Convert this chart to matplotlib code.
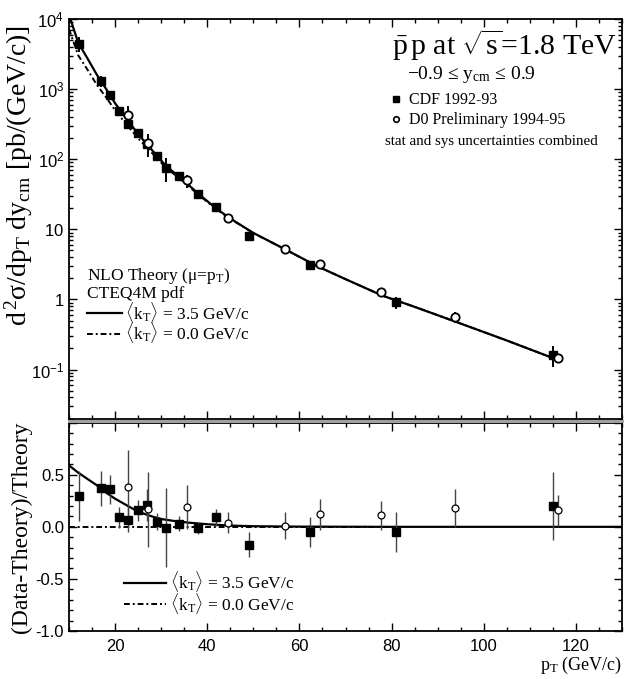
import numpy as np
import matplotlib
matplotlib.use("Agg")
import matplotlib.pyplot as plt
from matplotlib.lines import Line2D
from matplotlib.ticker import FixedLocator, MultipleLocator, FuncFormatter, NullFormatter

plt.rcParams['font.family'] = ['Liberation Serif', 'DejaVu Serif']
plt.rcParams['mathtext.fontset'] = 'custom'
plt.rcParams['mathtext.rm'] = 'Liberation Serif'
plt.rcParams['mathtext.it'] = 'Liberation Serif:italic'
plt.rcParams['mathtext.sf'] = 'Liberation Sans'
plt.rcParams['axes.unicode_minus'] = False

# CDF 1992-93 (filled squares)
cdf_pt = [12.2, 16.9, 19.0, 20.9, 22.9, 24.9, 27.0, 29.0, 31.0, 33.8, 37.9, 41.9, 49.0, 62.4, 81.0, 115.1]
cdf_xs = [4400, 1300, 820, 490, 316, 240, 164, 111, 76, 57, 31.6, 21, 8.0, 3.06, 0.91, 0.164]
cdf_ratio = [0.30, 0.37, 0.36, 0.09, 0.07, 0.16, 0.21, 0.05, -0.01, 0.03, -0.01, 0.09, -0.17, -0.05, -0.05, 0.20]
cdf_err = [0.24, 0.17, 0.14, 0.10, 0.12, 0.10, 0.15, 0.08, 0.38, 0.07, 0.06, 0.08, 0.12, 0.14, 0.19, 0.33]

# D0 Preliminary 1994-95 (open circles)
d0_pt = [22.7, 27.1, 35.6, 44.6, 56.9, 64.4, 77.6, 93.7, 116.1]
d0_xs = [425, 170, 50, 14.7, 5.2, 3.16, 1.27, 0.565, 0.144]
d0_ratio = [0.38, 0.17, 0.19, 0.04, 0.01, 0.12, 0.11, 0.18, 0.16]
d0_err = [0.36, 0.36, 0.21, 0.10, 0.13, 0.15, 0.14, 0.18, 0.15]

# NLO theory curves (top panel)
th_pt = [10, 12, 14, 16, 18, 20, 22, 25, 28, 31, 35, 38, 42, 45, 50, 57, 64, 70, 78, 85, 94, 105, 116]
th_kt35 = [11500, 4600, 2750, 1620, 1020, 630, 417, 229, 135, 81, 49, 32.5, 19.7, 14.3, 8.9,
           5.15, 2.95, 1.95, 1.135, 0.785, 0.479, 0.26, 0.138]
th_kt0 = [7200, 3030, 1900, 1160, 770, 500, 342, 199, 123, 76, 47, 31.5, 19.3, 14.1, 8.85,
          5.14, 2.95, 1.95, 1.135, 0.785, 0.479, 0.26, 0.138]

# kT=3.5 relative to kT=0 (bottom panel)
r_pt = [10, 12, 14, 16, 18, 20, 22, 24, 26, 28, 30, 33, 36, 40, 45, 50, 60, 80, 100, 130]
r_kt35 = [0.59, 0.52, 0.46, 0.40, 0.33, 0.27, 0.22, 0.17, 0.13, 0.10, 0.075, 0.055, 0.04,
          0.025, 0.012, 0.006, 0.002, 0.0, 0.0, 0.0]
r0_pt = [10, 81]
r_kt0 = [0.0, 0.0]

dash = (0, (3, 1.5, 1, 1.5))
lbl35 = r'$\langle$k$_\mathrm{T}$$\rangle$ = 3.5 GeV/c'
lbl0 = r'$\langle$k$_\mathrm{T}$$\rangle$ = 0.0 GeV/c'

fig = plt.figure(figsize=(6.24, 6.79), dpi=100)
ax1 = fig.add_axes([69/624, 0.3835, 553/624, 0.972 - 0.3835])
ax2 = fig.add_axes([69/624, 0.0707, 553/624, 0.3775 - 0.0707])

# ---- top panel ----
ax1.plot(th_pt, th_kt0, color='black', lw=1.4, ls=dash)
ax1.plot(th_pt, th_kt35, color='black', lw=1.6)
ax1.errorbar(cdf_pt, cdf_xs, yerr=np.array(cdf_xs) * np.array(cdf_err), fmt='s', color='black',
             ms=6, elinewidth=1.4, capsize=0)
ax1.errorbar(d0_pt, d0_xs, yerr=np.array(d0_xs) * np.array(d0_err), fmt='o', mfc='white',
             mec='black', mew=1.3, ms=6, ecolor='black', elinewidth=1.4, capsize=0)
ax1.set_yscale('log')
ax1.set_xlim(10, 130)
ax1.set_ylim(0.02, 1e4)

def log_label(v, pos):
    e = int(round(np.log10(v)))
    if e == 0:
        return r'$\mathsf{1}$'
    if e == 1:
        return r'$\mathsf{10}$'
    return r'$\mathsf{10^{%d}}$' % e

ax1.yaxis.set_major_locator(FixedLocator([0.1, 1, 10, 100, 1000, 10000]))
ax1.yaxis.set_major_formatter(FuncFormatter(log_label))
ax1.yaxis.set_minor_locator(matplotlib.ticker.LogLocator(base=10, subs=np.arange(2, 10), numticks=20))
ax1.yaxis.set_minor_formatter(NullFormatter())
ax1.xaxis.set_major_locator(MultipleLocator(20))
ax1.xaxis.set_minor_locator(MultipleLocator(5))
ax1.xaxis.set_major_formatter(NullFormatter())

ax1.text(0.788, 0.935, r'$\bar{\mathrm{p}}\,\mathrm{p}$ at $\sqrt{\mathrm{s}}$=1.8 TeV',
         transform=ax1.transAxes, ha='center', va='center', fontsize=21.5)
ax1.text(0.727, 0.86, r'−0.9 ≤ y$_\mathrm{cm}$ ≤ 0.9', transform=ax1.transAxes,
         ha='center', va='center', fontsize=14)
ax1.text(0.763, 0.6925, 'stat and sys uncertainties combined', transform=ax1.transAxes,
         ha='center', va='center', fontsize=10.8)
h_cdf = Line2D([], [], marker='s', ls='none', color='black', ms=4)
h_d0 = Line2D([], [], marker='o', ls='none', mfc='white', mec='black', mew=1.2, ms=4)
leg1 = ax1.legend([h_cdf, h_d0], ['CDF 1992-93', 'D0 Preliminary 1994-95'], loc='upper left',
                  bbox_to_anchor=(0.58, 0.817), frameon=False, fontsize=11.5, handlelength=0.8,
                  handletextpad=0.4, borderpad=0, borderaxespad=0, labelspacing=0.25)
ax1.add_artist(leg1)

ax1.text(0.0326, 0.357, r'NLO Theory (μ=p$_\mathrm{T}$)', transform=ax1.transAxes,
         ha='left', va='center', fontsize=12.5)
ax1.text(0.0326, 0.3125, 'CTEQ4M pdf', transform=ax1.transAxes, ha='left', va='center', fontsize=12.5)
h35 = Line2D([], [], color='black', lw=1.6)
h0 = Line2D([], [], color='black', lw=1.4, ls=dash)
ax1.legend([h35, h0], [lbl35, lbl0],
           loc='upper left', bbox_to_anchor=(0.0326, 0.2975), frameon=False, fontsize=12.5,
           handlelength=2.0, handletextpad=0.2, borderpad=0, borderaxespad=0, labelspacing=-0.25)

# ---- bottom panel ----
ax2.plot(r0_pt, r_kt0, color='black', lw=1.4, ls=dash)
ax2.plot(r_pt, r_kt35, color='black', lw=1.6)
ax2.errorbar(cdf_pt, cdf_ratio, yerr=cdf_err, fmt='s', color='black', ecolor='#444444',
             ms=6, elinewidth=1.0, capsize=0)
ax2.errorbar(d0_pt, d0_ratio, yerr=d0_err, fmt='o', mfc='white', mec='black', mew=0.9, ms=5,
             ecolor='#444444', elinewidth=1.0, capsize=0)
ax2.set_xlim(10, 130)
ax2.set_ylim(-1, 1)
ax2.xaxis.set_major_locator(MultipleLocator(20))
ax2.xaxis.set_minor_locator(MultipleLocator(5))
ax2.yaxis.set_major_locator(FixedLocator([-1.0, -0.5, 0.0, 0.5, 1.0]))
ax2.yaxis.set_minor_locator(MultipleLocator(0.1))
ax2.yaxis.set_major_formatter(FuncFormatter(lambda v, p: '' if v > 0.9 else '%.1f' % v))
ax2.legend([h35, h0], [lbl35, lbl0],
           loc='upper left', bbox_to_anchor=(0.0995, 0.296), frameon=False, fontsize=12.5,
           handlelength=2.4, handletextpad=0.25, borderpad=0, borderaxespad=0, labelspacing=-0.2)

for ax in (ax1, ax2):
    for s in ax.spines.values():
        s.set_linewidth(1.3)
    ax.tick_params(which='both', direction='in', top=True, right=True, width=1.0)
    ax.tick_params(which='major', length=6)
    ax.tick_params(which='minor', length=3)
    for lab in ax.get_xticklabels() + ax.get_yticklabels():
        lab.set_fontfamily('Liberation Sans')
        lab.set_fontsize(12)
ax2.tick_params(axis='x', pad=6)

fig.add_artist(Line2D([69/624, 622/624], [0.3805, 0.3805], transform=fig.transFigure,
                      color='#a0a0a0', lw=2.2))

fig.text(0.030, 0.742, r'd$^{\,2}$σ/dp$_\mathrm{T}$ dy$_\mathrm{cm}$ [pb/(GeV/c)]', rotation=90,
         ha='center', va='center', fontsize=20)
fig.text(0.035, 0.223, '(Data-Theory)/Theory', rotation=90, ha='center', va='center', fontsize=17)
fig.text(0.997, 0.0206, r'p$_\mathrm{T}$ (GeV/c)', ha='right', va='center', fontsize=13)

fig.savefig('out.png', dpi=100)
